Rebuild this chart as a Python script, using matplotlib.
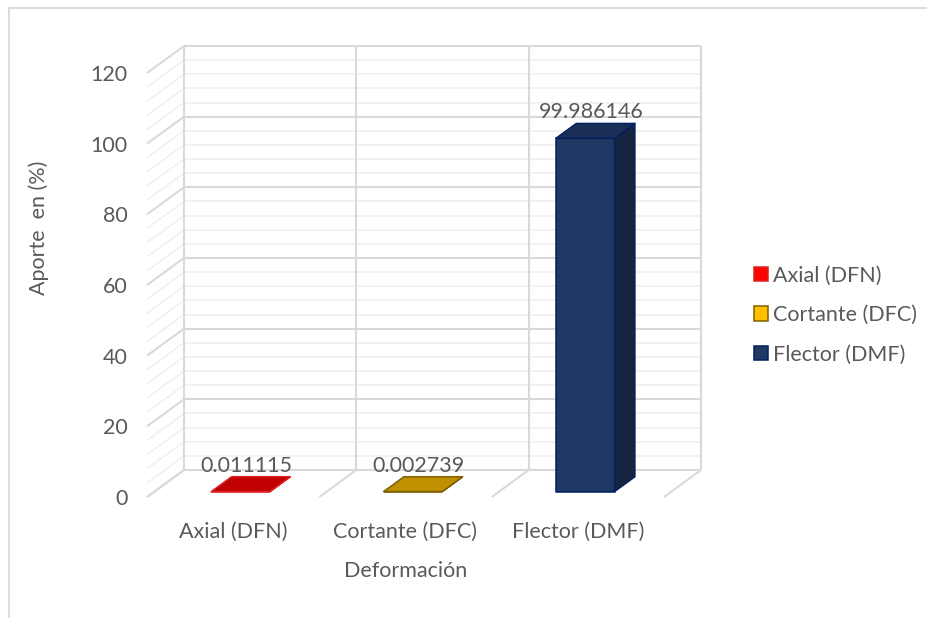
import numpy as np
import matplotlib.pyplot as plt
from matplotlib.patches import Polygon, Patch, Rectangle
from matplotlib.transforms import IdentityTransform

# contribution of each deformation type (%)
categories = ["Axial (DFN)", "Cortante (DFC)", "Flector (DMF)"]
values = [0.011115, 0.002739, 99.986146]
value_text = ["0.011115", "0.002739", "99.986146"]
y_ticks = [0, 20, 40, 60, 80, 100, 120]
minor_step = 4

front_colors = ["#ff0000", "#ffc000", "#203864"]
top_colors = ["#c00000", "#bf9000", "#1c2f57"]
side_colors = ["#a00000", "#9a7400", "#162440"]
edge_colors = ["#e02020", "#7f6000", "#002060"]

TXT = "#595959"
MAJOR = "#d9d9d9"
MINOR = "#efefef"
FS = 15.5

plt.rcParams["font.family"] = ["Lato", "DejaVu Sans"]

fig = plt.figure(figsize=(9.28, 6.18), dpi=100)
ax = fig.add_axes([147 / 928, 121 / 618, 517 / 928, 424 / 618])
ax.set_xlim(0, 3)
ax.set_ylim(0, 120)
ax.patch.set_visible(False)
for s in ax.spines.values():
    s.set_visible(False)

# oblique depth: pixel shift from the front plane to the back wall
DEPTH = np.array([37.0, 27.0])
PIX = IdentityTransform()


def proj(x, y, d):
    return ax.transData.transform((x, y)) + d * DEPTH


def seg(p0, p1, color, lw, z=1):
    ax.plot([p0[0], p1[0]], [p0[1], p1[1]], color=color, lw=lw,
            transform=PIX, clip_on=False, zorder=z, solid_capstyle="butt")


# back wall and left wall gridlines
ymax = y_ticks[-1]
for yv in np.arange(0, ymax + 1, minor_step):
    major = yv in y_ticks
    col, lw = (MAJOR, 1.5) if major else (MINOR, 1.1)
    z = 1.2 if major else 1
    seg(proj(0, yv, 1), proj(3, yv, 1), col, lw, z)
    seg(proj(0, yv, 0), proj(0, yv, 1), col, lw, z)

# vertical category separators on the back wall, floor lines
for xv in range(len(categories) + 1):
    seg(proj(xv, 0, 1), proj(xv, ymax, 1), MAJOR, 1.5, 1.2)
    seg(proj(xv, 0, 0), proj(xv, 0, 1), MAJOR, 1.5, 1.2)

# 3D columns
half_w = 0.17
d0, d1 = 0.2, 0.75
for i, v in enumerate(values):
    x0, x1 = i + 0.5 - half_w, i + 0.5 + half_w
    front = [proj(x0, 0, d0), proj(x1, 0, d0), proj(x1, v, d0), proj(x0, v, d0)]
    side = [proj(x1, 0, d0), proj(x1, 0, d1), proj(x1, v, d1), proj(x1, v, d0)]
    top = [proj(x0, v, d0), proj(x1, v, d0), proj(x1, v, d1), proj(x0, v, d1)]
    for pts, fc in [(front, front_colors[i]), (side, side_colors[i]), (top, top_colors[i])]:
        ax.add_patch(Polygon(pts, closed=True, facecolor=fc, edgecolor=edge_colors[i],
                             lw=1.1, transform=PIX, clip_on=False, zorder=3,
                             joinstyle="round"))
    lx = proj(i + 0.5, v, 0.35)[0]
    ly = proj(i + 0.5, v, d1)[1] + 5
    ax.text(lx, ly, value_text[i], transform=PIX, ha="center", va="baseline",
            fontsize=FS, color=TXT, zorder=5)

# axes ticks and titles
ax.set_yticks(y_ticks)
ax.set_yticklabels([str(t) for t in y_ticks])
ax.set_xticks([i + 0.5 for i in range(len(categories))])
ax.set_xticklabels(categories)
ax.tick_params(axis="both", length=0, labelsize=FS, labelcolor=TXT)
ax.tick_params(axis="y", pad=14)
ax.tick_params(axis="x", pad=18)
ax.set_xlabel("Deformación", fontsize=FS, color=TXT, labelpad=14)
ax.set_ylabel("Aporte  en (%)", fontsize=FS, color=TXT)
ax.yaxis.set_label_coords(-0.19, 0.634)

handles = [Patch(facecolor=front_colors[i], edgecolor=edge_colors[i], lw=1.1)
           for i in range(len(categories))]
leg = fig.legend(handles, categories, loc="center left",
                 bbox_to_anchor=(745 / 928, 1 - 315 / 618), frameon=False,
                 fontsize=FS, labelcolor=TXT, handlelength=0.65, handleheight=0.65,
                 handletextpad=0.25, labelspacing=0.9, borderaxespad=0)

# chart frame (clipped at the right and bottom)
fig.add_artist(Rectangle((9 / 928, -0.1), 1.2, 1.1 - 8 / 618, transform=fig.transFigure,
                         fill=False, edgecolor=MAJOR, lw=1.3))

fig.savefig("out.png", dpi=100)
